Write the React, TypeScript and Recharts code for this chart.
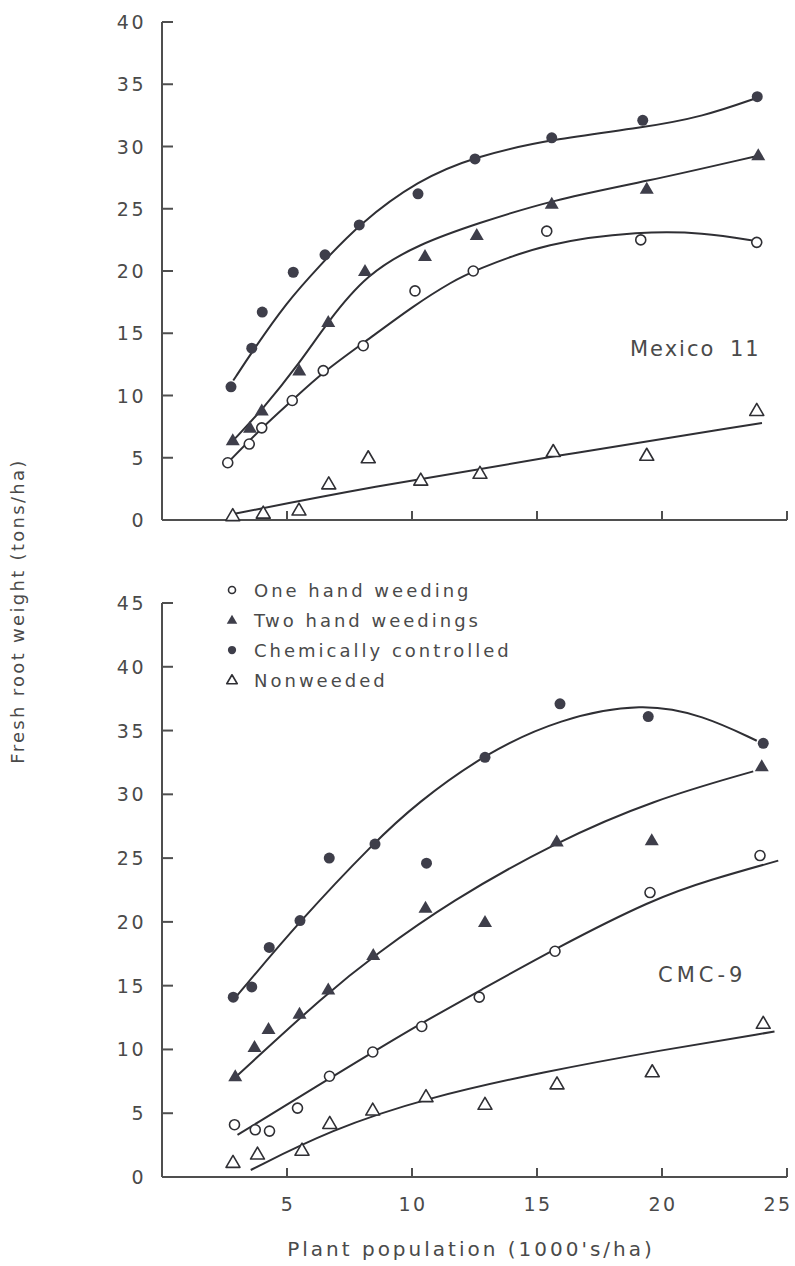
import { ComposedChart, Line, Scatter, XAxis, YAxis, Legend } from 'recharts';

type Pt = [number, number];

const xTicks = [5, 10, 15, 20, 25];
const mexYTicks = [0, 5, 10, 15, 20, 25, 30, 35, 40];
const cmcYTicks = [0, 5, 10, 15, 20, 25, 30, 35, 40, 45];

const seriesNames = ['One hand weeding', 'Two hand weedings', 'Chemically controlled', 'Nonweeded'];

// Mexico 11 - observed [plant population, fresh root weight]
const mexOneHand: Pt[] = [[2.63, 4.6], [3.49, 6.1], [3.99, 7.4], [5.21, 9.6], [6.45, 12.0], [8.05, 14.0], [10.12, 18.4], [12.45, 20.0], [15.39, 23.2], [19.15, 22.5], [23.79, 22.3]];
const mexTwoHand: Pt[] = [[2.83, 6.4], [3.52, 7.4], [3.99, 8.8], [5.49, 12.0], [6.65, 15.9], [8.12, 20.0], [10.52, 21.2], [12.59, 22.9], [15.59, 25.4], [19.39, 26.6], [23.85, 29.3]];
const mexChem: Pt[] = [[2.76, 10.7], [3.59, 13.8], [4.01, 16.7], [5.25, 19.9], [6.52, 21.3], [7.89, 23.7], [10.24, 26.2], [12.52, 29.0], [15.59, 30.7], [19.23, 32.1], [23.81, 34.0]];
const mexNone: Pt[] = [[2.83, 0.35], [4.05, 0.55], [5.48, 0.8], [6.67, 2.9], [8.25, 5.0], [10.35, 3.2], [12.72, 3.75], [15.65, 5.5], [19.39, 5.2], [23.79, 8.8]];

// Mexico 11 - fitted curves
const mexOneFit: Pt[] = [[2.63, 4.6], [3.99, 7.4], [5.21, 9.6], [6.45, 11.9], [8.05, 14.2], [10.12, 17.3], [11.65, 19.2], [12.45, 20.0], [15.39, 22.3], [19.15, 23.2], [21.65, 23.1], [23.79, 22.4]];
const mexTwoFit: Pt[] = [[2.85, 6.4], [3.99, 8.8], [5.5, 12.6], [6.59, 15.8], [8.19, 19.8], [10.32, 22.2], [12.59, 23.8], [15.59, 25.7], [19.39, 27.2], [23.72, 29.2]];
const mexChemFit: Pt[] = [[2.85, 11.2], [3.65, 13.65], [4.99, 17.5], [6.25, 20.3], [7.89, 23.8], [10.24, 27.3], [12.52, 29.2], [15.59, 30.6], [19.23, 31.5], [21.65, 32.4], [23.79, 33.9]];
const mexNoneFit: Pt[] = [[2.9, 0.5], [8.2, 2.6], [15.6, 5.1], [24.0, 7.8]];

// CMC-9 - observed
const cmcOneHand: Pt[] = [[2.9, 4.1], [3.73, 3.7], [4.3, 3.6], [5.42, 5.4], [6.7, 7.9], [8.43, 9.8], [10.39, 11.8], [12.69, 14.1], [15.72, 17.7], [19.52, 22.3], [23.92, 25.2]];
const cmcTwoHand: Pt[] = [[2.93, 7.9], [3.7, 10.2], [4.26, 11.6], [5.5, 12.8], [6.65, 14.7], [8.45, 17.4], [10.54, 21.1], [12.92, 20.0], [15.79, 26.3], [19.59, 26.4], [23.99, 32.2]];
const cmcChem: Pt[] = [[2.85, 14.1], [3.59, 14.9], [4.29, 18.0], [5.52, 20.1], [6.69, 25.0], [8.52, 26.1], [10.58, 24.6], [12.92, 32.9], [15.92, 37.1], [19.45, 36.1], [24.05, 34.0]];
const cmcNone: Pt[] = [[2.84, 1.15], [3.82, 1.8], [5.6, 2.1], [6.71, 4.2], [8.43, 5.25], [10.56, 6.3], [12.92, 5.7], [15.8, 7.3], [19.61, 8.25], [24.05, 12.05]];

// CMC-9 - fitted curves
const cmcOneFit: Pt[] = [[3.02, 3.3], [8.43, 9.8], [10.32, 12.0], [12.7, 14.6], [15.72, 17.9], [19.65, 21.8], [21.92, 23.3], [24.65, 24.8]];
const cmcTwoFit: Pt[] = [[2.98, 7.9], [6.59, 14.4], [8.52, 17.4], [11.52, 21.6], [15.79, 26.3], [19.65, 29.55], [23.65, 31.8]];
const cmcChemFit: Pt[] = [[2.95, 14.1], [5.52, 20.1], [8.52, 26.3], [10.19, 29.3], [12.92, 33.2], [15.92, 35.95], [19.23, 37.2], [21.65, 36.2], [23.79, 34.2]];
const cmcNoneFit: Pt[] = [[3.55, 0.55], [6.75, 3.7], [10.56, 6.2], [15.27, 8.25], [19.97, 9.95], [24.5, 11.4]];

const toRows = (pts: Pt[]) => pts.map(([x, y]) => ({ x, y }));

const INK = '#2f2f34';
const FILL = '#3e3e4a';
const AXIS = '#4f4f4f';
const TEXT = '#4a4a4a';
const FONT = '"DejaVu Sans", sans-serif';

const OpenCircle = ({ cx, cy, s = 1 }: any) => (
    <circle cx={cx} cy={cy} r={5 * s} fill="#fff" stroke={INK} strokeWidth={1.6} />
);
const FilledCircle = ({ cx, cy, s = 1 }: any) => (
    <circle cx={cx} cy={cy} r={5.5 * s} fill={FILL} />
);
const FilledTriangle = ({ cx, cy, s = 1 }: any) => (
    <polygon
        points={`${cx},${cy - 7 * s} ${cx - 7 * s},${cy + 5 * s} ${cx + 7 * s},${cy + 5 * s}`}
        fill={FILL}
    />
);
const OpenTriangle = ({ cx, cy, s = 1 }: any) => (
    <polygon
        points={`${cx},${cy - 7 * s} ${cx - 7 * s},${cy + 5 * s} ${cx + 7 * s},${cy + 5 * s}`}
        fill="#fff"
        stroke={INK}
        strokeWidth={1.6}
        strokeLinejoin="round"
    />
);

const markers = [OpenCircle, FilledTriangle, FilledCircle, OpenTriangle];

const YTick = (props: any) => {
    const { x, y, payload } = props;
    return (
        <g>
            <line x1={x} y1={y} x2={x + 11} y2={y} stroke={AXIS} strokeWidth={2} />
            <text x={x - 16} y={y + 7} textAnchor="end" fill={TEXT} fontSize={19} fontFamily={FONT} letterSpacing={2.5}>
                {payload.value}
            </text>
        </g>
    );
};

const XTick = (props: any) => {
    const { x, y, payload, showLabel } = props;
    // last label sits at the very edge of the page, nudge it inside
    const shift = payload.value === 25 ? -9 : 1;
    return (
        <g>
            <line x1={x} y1={y} x2={x} y2={y - 9} stroke={AXIS} strokeWidth={2} />
            {showLabel && (
                <text x={x + shift} y={y + 34} textAnchor="middle" fill={TEXT} fontSize={19} fontFamily={FONT} letterSpacing={2.5}>
                    {payload.value}
                </text>
            )}
        </g>
    );
};

const LegendBox = () => (
    <div style={{ fontFamily: FONT, fontSize: 18, color: TEXT, letterSpacing: 3 }}>
        {seriesNames.map((name, i) => {
            const M = markers[i];
            return (
                <div key={name} style={{ display: 'flex', alignItems: 'center', height: 30 }}>
                    <svg width={16} height={16} style={{ marginRight: 14 }}>
                        <M cx={8} cy={8} s={i === 0 ? 0.7 : 0.75} />
                    </svg>
                    <span>{name}</span>
                </div>
            );
        })}
    </div>
);

interface PanelProps {
    height: number;
    margin: { top: number; right: number; bottom: number; left: number };
    yTicks: number[];
    observed: Pt[][];
    fits: Pt[][];
    showXLabels: boolean;
    withLegend?: boolean;
}

const Panel = ({ height, margin, yTicks, observed, fits, showXLabels, withLegend }: PanelProps) => (
    <ComposedChart width={795} height={height} margin={margin}>
        <XAxis
            type="number"
            dataKey="x"
            domain={[0, 25]}
            ticks={xTicks}
            interval={0}
            height={1}
            tickSize={0}
            tickMargin={0}
            tickLine={false}
            axisLine={{ stroke: AXIS, strokeWidth: 2 }}
            tick={(p: any) => <XTick {...p} showLabel={showXLabels} />}
        />
        <YAxis
            type="number"
            dataKey="y"
            domain={[0, yTicks[yTicks.length - 1]]}
            ticks={yTicks}
            interval={0}
            width={1}
            tickSize={0}
            tickMargin={0}
            tickLine={false}
            axisLine={{ stroke: AXIS, strokeWidth: 2 }}
            tick={(p: any) => <YTick {...p} />}
        />
        {fits.map((fit, i) => (
            <Line
                key={`fit-${i}`}
                data={toRows(fit)}
                dataKey="y"
                type="basis"
                stroke={INK}
                strokeWidth={2}
                dot={false}
                activeDot={false}
                isAnimationActive={false}
                legendType="none"
            />
        ))}
        {observed.map((obs, i) => {
            const M = markers[i];
            return (
                <Scatter
                    key={`obs-${i}`}
                    name={seriesNames[i]}
                    data={toRows(obs)}
                    shape={(p: any) => <M cx={p.cx} cy={p.cy} />}
                    isAnimationActive={false}
                />
            );
        })}
        {withLegend && (
            <Legend
                layout="vertical"
                align="center"
                verticalAlign="middle"
                content={() => <LegendBox />}
                wrapperStyle={{ position: 'absolute', left: 224, top: 15, width: 360 }}
            />
        )}
    </ComposedChart>
);

export default function App() {
    return (
        <div style={{ position: 'absolute', left: 0, top: 0, width: 795, height: 1266, background: '#fff', overflow: 'hidden' }}>
            <div style={{ position: 'absolute', left: 0, top: 0 }}>
                <Panel
                    height={560}
                    margin={{ top: 22, right: 8, bottom: 39, left: 161 }}
                    yTicks={mexYTicks}
                    observed={[mexOneHand, mexTwoHand, mexChem, mexNone]}
                    fits={[mexOneFit, mexTwoFit, mexChemFit, mexNoneFit]}
                    showXLabels={false}
                />
            </div>
            <div style={{ position: 'absolute', left: 0, top: 560 }}>
                <Panel
                    height={706}
                    margin={{ top: 43, right: 8, bottom: 88, left: 161 }}
                    yTicks={cmcYTicks}
                    observed={[cmcOneHand, cmcTwoHand, cmcChem, cmcNone]}
                    fits={[cmcOneFit, cmcTwoFit, cmcChemFit, cmcNoneFit]}
                    showXLabels
                    withLegend
                />
            </div>
            <div style={{ position: 'absolute', left: 630, top: 337, fontFamily: FONT, fontSize: 21, color: TEXT, letterSpacing: 2, wordSpacing: 6, whiteSpace: 'nowrap' }}>
                Mexico 11
            </div>
            <div style={{ position: 'absolute', left: 658, top: 963, fontFamily: FONT, fontSize: 21, color: TEXT, letterSpacing: 4, whiteSpace: 'nowrap' }}>
                CMC-9
            </div>
            <div
                style={{
                    position: 'absolute',
                    left: 18 - 200,
                    top: 611 - 12,
                    width: 400,
                    height: 24,
                    lineHeight: '24px',
                    textAlign: 'center',
                    transform: 'rotate(-90deg)',
                    fontFamily: FONT,
                    fontSize: 18,
                    color: TEXT,
                    letterSpacing: 2.3,
                    whiteSpace: 'nowrap',
                }}
            >
                Fresh root weight (tons/ha)
            </div>
            <div
                style={{
                    position: 'absolute',
                    left: 471 - 250,
                    top: 1237,
                    width: 500,
                    textAlign: 'center',
                    fontFamily: FONT,
                    fontSize: 20,
                    color: TEXT,
                    letterSpacing: 3,
                    whiteSpace: 'nowrap',
                }}
            >
                Plant population (1000's/ha)
            </div>
        </div>
    );
}
